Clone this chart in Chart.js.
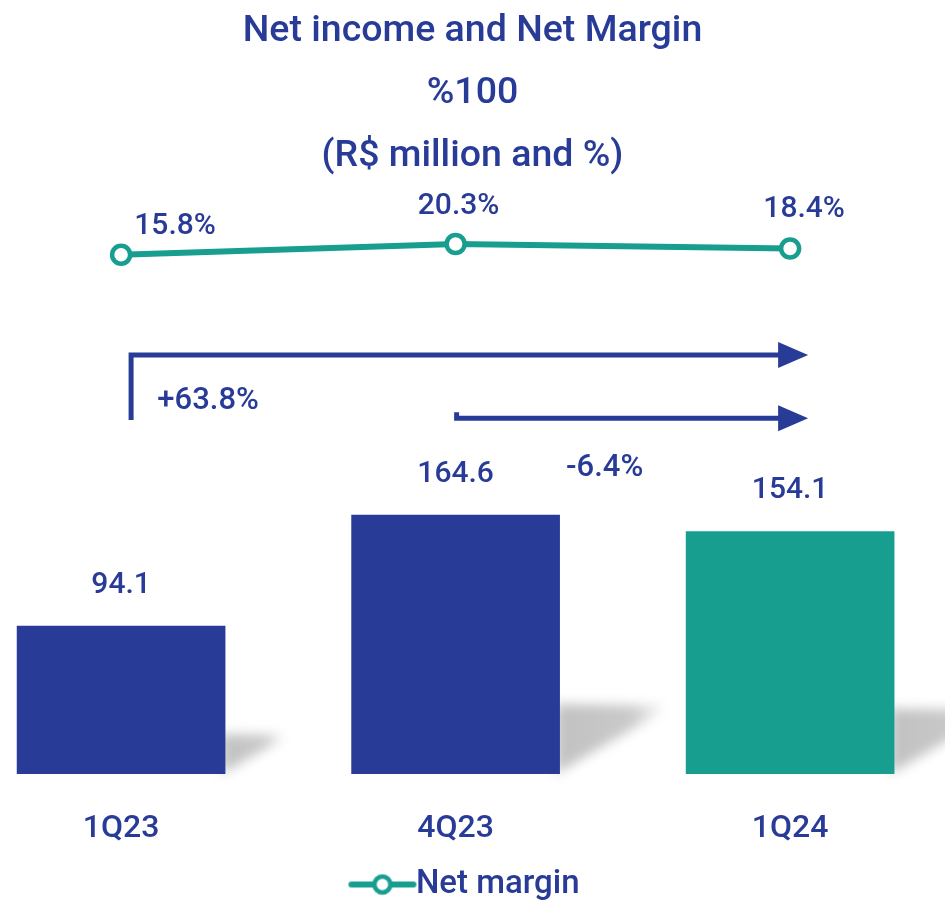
<!DOCTYPE html>
<html><head><meta charset="utf-8">
<script src="https://cdn.jsdelivr.net/npm/chart.js@4.4.1/dist/chart.umd.min.js"></script>
<style>html,body{margin:0;padding:0;background:#fff;overflow:hidden}</style>
</head><body>
<canvas id="c" width="945" height="901"></canvas>
<script>
const categories = ['1Q23', '4Q23', '1Q24'];
const netIncome = [94.1, 164.6, 154.1];
const netMargin = [15.8, 20.3, 18.4];
const incomeLabels = ['94.1', '164.6', '154.1'];
const marginLabels = ['15.8%', '20.3%', '18.4%'];
const titleLines = ['Net income and Net Margin', '%100', '(R$ million and %)'];
const changeFrom = [0, 1];
const changeTo = [2, 2];
const changeLabels = ['+63.8%', '-6.4%'];
const legendLabel = 'Net margin';

const NAVY = '#283b97';
const TEAL = '#179e8f';
const FAM = 'Roboto';

const legendIcon = (() => {
  const c = document.createElement('canvas');
  c.width = 70; c.height = 26;
  const g = c.getContext('2d');
  g.strokeStyle = TEAL; g.lineCap = 'round'; g.lineWidth = 6;
  g.beginPath(); g.moveTo(4, 13); g.lineTo(66, 13); g.stroke();
  g.beginPath(); g.arc(35, 13, 8, 0, Math.PI * 2);
  g.fillStyle = '#fff'; g.fill(); g.lineWidth = 4.5; g.stroke();
  return c;
})();

const barShadow = {
  id: 'barShadow',
  beforeDatasetsDraw(chart) {
    const ctx = chart.ctx;
    chart.getDatasetMeta(0).data.forEach(bar => {
      const p = bar.getProps(['x', 'y', 'base', 'width'], true);
      const xr = p.x + p.width / 2, h = p.base - p.y;
      ctx.save();
      ctx.filter = 'blur(6px)';
      const g = ctx.createLinearGradient(xr, 0, xr + 0.42 * h, 0);
      g.addColorStop(0, 'rgba(0,0,0,0.24)');
      g.addColorStop(0.65, 'rgba(0,0,0,0.21)');
      g.addColorStop(1, 'rgba(0,0,0,0.02)');
      ctx.fillStyle = g;
      ctx.beginPath();
      ctx.moveTo(xr - 4, p.base);
      ctx.lineTo(xr - 4, p.base - 0.27 * h);
      ctx.lineTo(xr + 0.41 * h, p.base - 0.265 * h);
      ctx.lineTo(xr + 0.36 * h, p.base - 0.22 * h);
      ctx.closePath();
      ctx.fill();
      ctx.restore();
    });
  }
};

const valueLabels = {
  id: 'valueLabels',
  afterDatasetsDraw(chart, args, opts) {
    const ctx = chart.ctx;
    ctx.save();
    ctx.fillStyle = NAVY;
    ctx.textAlign = 'center';
    ctx.textBaseline = 'middle';
    ctx.font = '500 30px ' + FAM;
    chart.getDatasetMeta(0).data.forEach((bar, i) => {
      ctx.fillText(incomeLabels[i], bar.x, bar.y - opts.barGap);
    });
    chart.getDatasetMeta(1).data.forEach((pt, i) => {
      const o = opts.marginOffsets[i];
      ctx.fillText(marginLabels[i], pt.x + o[0], pt.y + o[1]);
    });
    ctx.restore();
  }
};

const changeArrows = {
  id: 'changeArrows',
  afterDatasetsDraw(chart, args, opts) {
    const ctx = chart.ctx, xs = chart.scales.x, ys = chart.scales.y;
    ctx.save();
    ctx.strokeStyle = NAVY; ctx.fillStyle = NAVY;
    ctx.lineWidth = 5; ctx.lineJoin = 'miter'; ctx.lineCap = 'butt';
    changeFrom.forEach((f, i) => {
      const st = opts.styles[i];
      const x0 = xs.getPixelForValue(f) + st.dx0;
      const x1 = xs.getPixelForValue(changeTo[i]) + st.dx1;
      const yy = ys.getPixelForValue(st.level);
      ctx.beginPath();
      ctx.moveTo(x0, yy + st.drop);
      ctx.lineTo(x0, yy);
      ctx.lineTo(x1 - 28, yy);
      ctx.stroke();
      ctx.beginPath();
      ctx.moveTo(x1 - 30, yy - 13);
      ctx.lineTo(x1, yy);
      ctx.lineTo(x1 - 30, yy + 13);
      ctx.closePath();
      ctx.fill();
      ctx.font = '500 31px ' + FAM;
      ctx.textAlign = 'center'; ctx.textBaseline = 'middle';
      ctx.fillText(changeLabels[i], x0 + st.lx, yy + st.ly);
    });
    ctx.restore();
  }
};

new Chart(document.getElementById('c'), {
  data: {
    datasets: [
      {
        type: 'bar',
        label: 'Net income',
        data: categories.map((c, i) => ({ x: i, y: netIncome[i] })),
        backgroundColor: [NAVY, NAVY, TEAL],
        barThickness: 208,
        yAxisID: 'y',
        order: 2
      },
      {
        type: 'line',
        label: legendLabel,
        data: categories.map((c, i) => ({ x: i, y: netMargin[i] })),
        borderColor: TEAL,
        borderWidth: 6,
        pointRadius: 9,
        pointBorderWidth: 4.5,
        pointBackgroundColor: '#fff',
        pointBorderColor: TEAL,
        yAxisID: 'y1',
        order: 1
      }
    ]
  },
  options: {
    responsive: false,
    devicePixelRatio: 1,
    animation: false,
    layout: { autoPadding: false, padding: { left: 0, right: 0, top: 0, bottom: -10 } },
    scales: {
      x: {
        type: 'linear',
        offset: false,
        min: -0.362, max: 2.463,
        grid: { display: false, drawTicks: false, offset: false },
        border: { display: false },
        afterBuildTicks: s => { s.ticks = categories.map((c, i) => ({ value: i })); },
        afterFit: s => { s.height = 90; },
        ticks: {
          callback: v => categories[v],
          color: NAVY,
          font: { family: FAM, size: 32, weight: 500 },
          padding: 36,
          maxRotation: 0,
          autoSkip: false
        }
      },
      y: { display: false, min: 0, max: 373 },
      y1: { display: false, min: -202, max: 44 }
    },
    plugins: {
      title: {
        display: true,
        text: titleLines,
        color: NAVY,
        font: { family: FAM, size: 37.5, weight: 500, lineHeight: 62.5 / 37.5 },
        padding: { top: 0, bottom: 0 }
      },
      legend: {
        position: 'bottom',
        labels: {
          usePointStyle: true,
          pointStyleWidth: 34,
          padding: 4,
          color: NAVY,
          font: { family: FAM, size: 33, weight: 500 },
          generateLabels: () => [{
            text: legendLabel, pointStyle: legendIcon, fillStyle: '#fff',
            strokeStyle: TEAL, lineWidth: 0, fontColor: NAVY, hidden: false, datasetIndex: 1
          }]
        }
      },
      tooltip: { enabled: false },
      valueLabels: { barGap: 41, marginOffsets: [[54, -28], [3, -38], [14, -39]] },
      changeArrows: {
        styles: [
          { dx0: 10, dx1: 18, level: 266.4, drop: 65, lx: 77, ly: 46 },
          { dx0: 1, dx1: 18, level: 226.3, drop: -6, lx: 148, ly: 50 }
        ]
      }
    }
  },
  plugins: [barShadow, valueLabels, changeArrows]
});
</script>
</body></html>
